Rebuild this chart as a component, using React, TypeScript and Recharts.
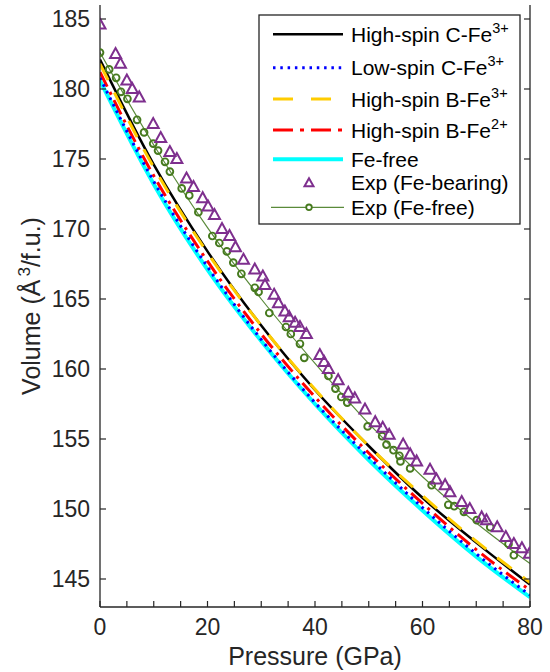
import React from "react";
import { ComposedChart, Line, Scatter, XAxis, YAxis } from "recharts";

// model curves, read every 10 GPa
const pressureGrid = [0, 10, 20, 30, 40, 50, 60, 70, 80];
const highSpinCFe3 = [182.1, 174.6, 168.4, 163.1, 158.5, 154.5, 150.8, 147.6, 144.6];
const lowSpinCFe3 = [180.8, 173.4, 167.3, 162.1, 157.6, 153.7, 150.1, 146.8, 143.85];
const highSpinBFe3 = [181.8, 174.4, 168.3, 163.1, 158.55, 154.5, 150.95, 147.7, 144.75];
const highSpinBFe2 = [181.2, 173.8, 167.7, 162.5, 158.0, 154.0, 150.4, 147.1, 144.2];
const feFree = [180.6, 173.2, 167.1, 162.0, 157.5, 153.5, 149.9, 146.6, 143.7];
const expFeFreeFit = [182.6, 176.0, 170.1, 165.0, 160.4, 156.1, 152.3, 149.0, 146.1];

// experiment, Fe-bearing (triangles)
const expFeBearingP = [
  0.0, 2.9, 3.8, 5.0, 6.0, 7.3, 9.9, 11.3, 13.0, 14.3, 16.1, 17.4, 19.1, 20.1, 21.3,
  22.7, 24.1, 25.2, 26.7, 28.8, 30.3, 30.7, 32.4, 33.2, 34.4, 35.2, 36.3, 37.2, 38.4,
  40.9, 41.7, 42.5, 44.3, 46.2, 47.4, 49.3, 51.2, 52.6, 53.8, 56.4, 57.7, 58.9, 61.4,
  62.6, 64.2, 65.1, 67.3, 68.8, 71.0, 71.9, 73.9, 75.5, 77.0, 78.5, 79.9,
];
const expFeBearingV = [
  184.6, 182.5, 181.8, 180.6, 180.0, 179.4, 177.5, 176.5, 175.5, 175.0, 173.6, 173.0, 172.2, 171.6, 171.0,
  170.0, 169.5, 168.7, 167.8, 167.1, 166.6, 166.0, 165.3, 164.7, 164.1, 163.7, 163.3, 163.0, 162.5,
  161.0, 160.5, 160.0, 159.2, 158.3, 157.9, 157.1, 156.2, 155.8, 155.3, 154.6, 153.9, 153.4, 152.8,
  152.1, 151.7, 151.2, 150.5, 150.0, 149.4, 149.2, 148.7, 148.0, 147.5, 147.2, 146.8,
];

// experiment, Fe-free (circles)
const expFeFreeP = [
  0.0, 1.7, 3.0, 3.9, 5.1, 6.9, 8.2, 9.9, 10.8, 12.1, 13.0, 15.2, 16.6, 18.3, 20.9,
  22.2, 23.6, 24.8, 26.3, 28.8, 29.5, 31.5, 34.6, 35.5, 37.2, 38.0, 42.5, 43.8, 44.9,
  46.0, 49.8, 52.5, 53.3, 54.6, 55.7, 55.9, 57.7, 61.7, 64.8, 65.9, 67.7, 70.1, 72.6,
  76.0, 77.0,
];
const expFeFreeV = [
  182.6, 181.4, 180.8, 179.8, 179.3, 177.8, 176.9, 176.1, 175.6, 174.8, 174.1, 172.9, 172.4, 171.2, 169.5,
  169.0, 168.4, 167.6, 166.8, 165.8, 165.5, 164.0, 163.0, 162.5, 161.8, 160.8, 159.5, 158.6, 158.0,
  157.6, 155.9, 155.2, 154.6, 154.2, 153.8, 153.4, 152.9, 151.7, 150.3, 150.2, 149.8, 149.2, 148.7,
  147.5, 146.7,
];

const xTicks = [0, 5, 10, 15, 20, 25, 30, 35, 40, 45, 50, 55, 60, 65, 70, 75, 80];
const xLabelTicks = [0, 20, 40, 60, 80];
const yTicks = [145, 150, 155, 160, 165, 170, 175, 180, 185];

const toPoints = (ps: number[], vs: number[]) => ps.map((p, i) => ({ p, v: vs[i] }));

const axisColor = "#262626";
const font = "'Liberation Sans', Arial, Helvetica, sans-serif";

const curves = [
  { name: "Fe-free", values: feFree, color: "#00FFFF", width: 4, dash: undefined },
  { name: "High-spin C-Fe3+", values: highSpinCFe3, color: "#000000", width: 2.5, dash: undefined },
  { name: "High-spin B-Fe3+", values: highSpinBFe3, color: "#FFCC00", width: 3, dash: "18 14" },
  { name: "High-spin B-Fe2+", values: highSpinBFe2, color: "#FF0000", width: 3, dash: "16 6 3 6" },
  { name: "Low-spin C-Fe3+", values: lowSpinCFe3, color: "#0000FF", width: 3, dash: "2.5 4.8" },
];

const Triangle = (props: any) => {
  const { cx, cy } = props;
  if (cx == null || cy == null) return null;
  return (
    <path
      d={`M${cx},${cy - 6}L${cx - 5.5},${cy + 4}L${cx + 5.5},${cy + 4}Z`}
      fill="none"
      stroke="#7E2F8E"
      strokeWidth={2}
    />
  );
};

const Ring = (props: any) => {
  const { cx, cy } = props;
  if (cx == null || cy == null) return null;
  return <circle cx={cx} cy={cy} r={3.4} fill="none" stroke="#467A1E" strokeWidth={1.9} />;
};

const BottomTick = (props: any) => {
  const { x, y, payload } = props;
  return (
    <g>
      <line x1={x} y1={y} x2={x} y2={y - 6} stroke={axisColor} strokeWidth={1.2} />
      {xLabelTicks.includes(payload.value) && (
        <text x={x} y={y + 28} textAnchor="middle" fontSize={23} fill={axisColor} fontFamily={font}>
          {payload.value}
        </text>
      )}
    </g>
  );
};

const TopTick = (props: any) => {
  const { x, y } = props;
  return <line x1={x} y1={y} x2={x} y2={y + 6} stroke={axisColor} strokeWidth={1.2} />;
};

const LeftTick = (props: any) => {
  const { x, y, payload } = props;
  return (
    <g>
      <line x1={x} y1={y} x2={x + 6} y2={y} stroke={axisColor} strokeWidth={1.2} />
      <text x={x - 10} y={y + 8} textAnchor="end" fontSize={23} fill={axisColor} fontFamily={font}>
        {payload.value}
      </text>
    </g>
  );
};

const RightTick = (props: any) => {
  const { x, y } = props;
  return <line x1={x} y1={y} x2={x - 6} y2={y} stroke={axisColor} strokeWidth={1.2} />;
};

const XLabel = (props: any) => {
  const vb = props.viewBox || { x: 100, y: 607, width: 430, height: 65 };
  return (
    <text x={vb.x + vb.width / 2} y={vb.y + 58} textAnchor="middle" fontSize={25} fill={axisColor} fontFamily={font}>
      Pressure (GPa)
    </text>
  );
};

const YLabel = (props: any) => {
  const vb = props.viewBox || { x: 0, y: 5, width: 100, height: 602 };
  const cx = vb.x + 40;
  const cy = vb.y + vb.height / 2;
  return (
    <text
      transform={`translate(${cx},${cy}) rotate(-90)`}
      textAnchor="middle"
      fontSize={25}
      fill={axisColor}
      fontFamily={font}
    >
      Volume (Å
      <tspan dx={3} dy={-10} fontSize={17}>3</tspan>
      <tspan dy={10}>/f.u.)</tspan>
    </text>
  );
};

const legendRows = [
  { base: "High-spin C-Fe", sup: "3+", kind: "line", color: "#000000", width: 2.5, dash: undefined },
  { base: "Low-spin C-Fe", sup: "3+", kind: "line", color: "#0000FF", width: 3, dash: "2.5 4.8" },
  { base: "High-spin B-Fe", sup: "3+", kind: "line", color: "#FFCC00", width: 3, dash: "20 18" },
  { base: "High-spin B-Fe", sup: "2+", kind: "line", color: "#FF0000", width: 3, dash: "20 7 4 7" },
  { base: "Fe-free", sup: "", kind: "line", color: "#00FFFF", width: 4, dash: undefined },
  { base: "Exp (Fe-bearing)", sup: "", kind: "tri", color: "#7E2F8E", width: 2, dash: undefined },
  { base: "Exp (Fe-free)", sup: "", kind: "ring", color: "#467A1E", width: 1.9, dash: undefined },
];
const legendRowY = [19.3, 52.7, 84, 115, 144.3, 167.7, 192.3];

const LegendBox = () => (
  <svg width={263} height={211} style={{ position: "absolute", left: 258, top: 14 }}>
    <rect x={1} y={1} width={261} height={209} fill="#FFFFFF" stroke={axisColor} strokeWidth={1.3} />
    {legendRows.map((r, i) => {
      const y = legendRowY[i] + 1;
      return (
        <g key={i}>
          {r.kind === "line" && (
            <line x1={15} x2={85} y1={y} y2={y} stroke={r.color} strokeWidth={r.width} strokeDasharray={r.dash} />
          )}
          {r.kind === "tri" && (
            <path d={`M51,${y - 4.5}L46.5,${y + 3.5}L55.5,${y + 3.5}Z`} fill="none" stroke={r.color} strokeWidth={2} />
          )}
          {r.kind === "ring" && (
            <g>
              <line x1={13} x2={86} y1={y} y2={y} stroke="#5A8A3A" strokeWidth={1.2} />
              <circle cx={51} cy={y} r={2.8} fill="#FFFFFF" stroke={r.color} strokeWidth={1.8} />
            </g>
          )}
          <text x={93} y={y + 7.5} fontSize={21} fill="#000000" fontFamily={font}>
            {r.base}
            {r.sup && (
              <tspan dy={-9} fontSize={14.5}>
                {r.sup}
              </tspan>
            )}
          </text>
        </g>
      );
    })}
  </svg>
);

export default function App() {
  return (
    <div style={{ position: "absolute", left: 0, top: 0, width: 550, height: 672, background: "#FFFFFF" }}>
      <ComposedChart width={550} height={672} margin={{ top: 5, right: 0, bottom: 0, left: 0 }}>
        <XAxis
          xAxisId="bottom"
          type="number"
          dataKey="p"
          domain={[0, 80]}
          ticks={xTicks}
          interval={0}
          allowDataOverflow
          height={65}
          tickSize={0}
          tickMargin={0}
          tickLine={false}
          tick={<BottomTick />}
          axisLine={{ stroke: axisColor, strokeWidth: 1.3 }}
          label={<XLabel />}
        />
        <XAxis
          xAxisId="top"
          orientation="top"
          type="number"
          dataKey="p"
          domain={[0, 80]}
          ticks={xTicks}
          interval={0}
          allowDataOverflow
          height={0}
          tickSize={0}
          tickMargin={0}
          tickLine={false}
          tick={<TopTick />}
          axisLine={{ stroke: axisColor, strokeWidth: 1.3 }}
        />
        <YAxis
          yAxisId="left"
          type="number"
          domain={[143, 186]}
          ticks={yTicks}
          interval={0}
          allowDataOverflow
          width={100}
          tickSize={0}
          tickMargin={0}
          tickLine={false}
          tick={<LeftTick />}
          axisLine={{ stroke: axisColor, strokeWidth: 1.3 }}
          label={<YLabel />}
        />
        <YAxis
          yAxisId="right"
          orientation="right"
          type="number"
          domain={[143, 186]}
          ticks={yTicks}
          interval={0}
          allowDataOverflow
          width={20}
          tickSize={0}
          tickMargin={0}
          tickLine={false}
          tick={<RightTick />}
          axisLine={{ stroke: axisColor, strokeWidth: 1.3 }}
        />
        {curves.map((c) => (
          <Line
            key={c.name}
            xAxisId="bottom"
            yAxisId="left"
            data={toPoints(pressureGrid, c.values)}
            dataKey="v"
            type="monotone"
            stroke={c.color}
            strokeWidth={c.width}
            strokeDasharray={c.dash}
            dot={false}
            activeDot={false}
            isAnimationActive={false}
          />
        ))}
        <Line
          xAxisId="bottom"
          yAxisId="left"
          data={toPoints(pressureGrid, expFeFreeFit)}
          dataKey="v"
          type="monotone"
          stroke="#5A8A3A"
          strokeWidth={1.2}
          dot={false}
          activeDot={false}
          isAnimationActive={false}
        />
        <Scatter
          xAxisId="bottom"
          yAxisId="left"
          data={toPoints(expFeFreeP, expFeFreeV)}
          dataKey="v"
          shape={<Ring />}
          isAnimationActive={false}
        />
        <Scatter
          xAxisId="bottom"
          yAxisId="left"
          data={toPoints(expFeBearingP, expFeBearingV)}
          dataKey="v"
          shape={<Triangle />}
          isAnimationActive={false}
        />
        <Line
          xAxisId="top"
          yAxisId="right"
          data={[]}
          dataKey="v"
          dot={false}
          activeDot={false}
          isAnimationActive={false}
        />
      </ComposedChart>
      <LegendBox />
    </div>
  );
}
